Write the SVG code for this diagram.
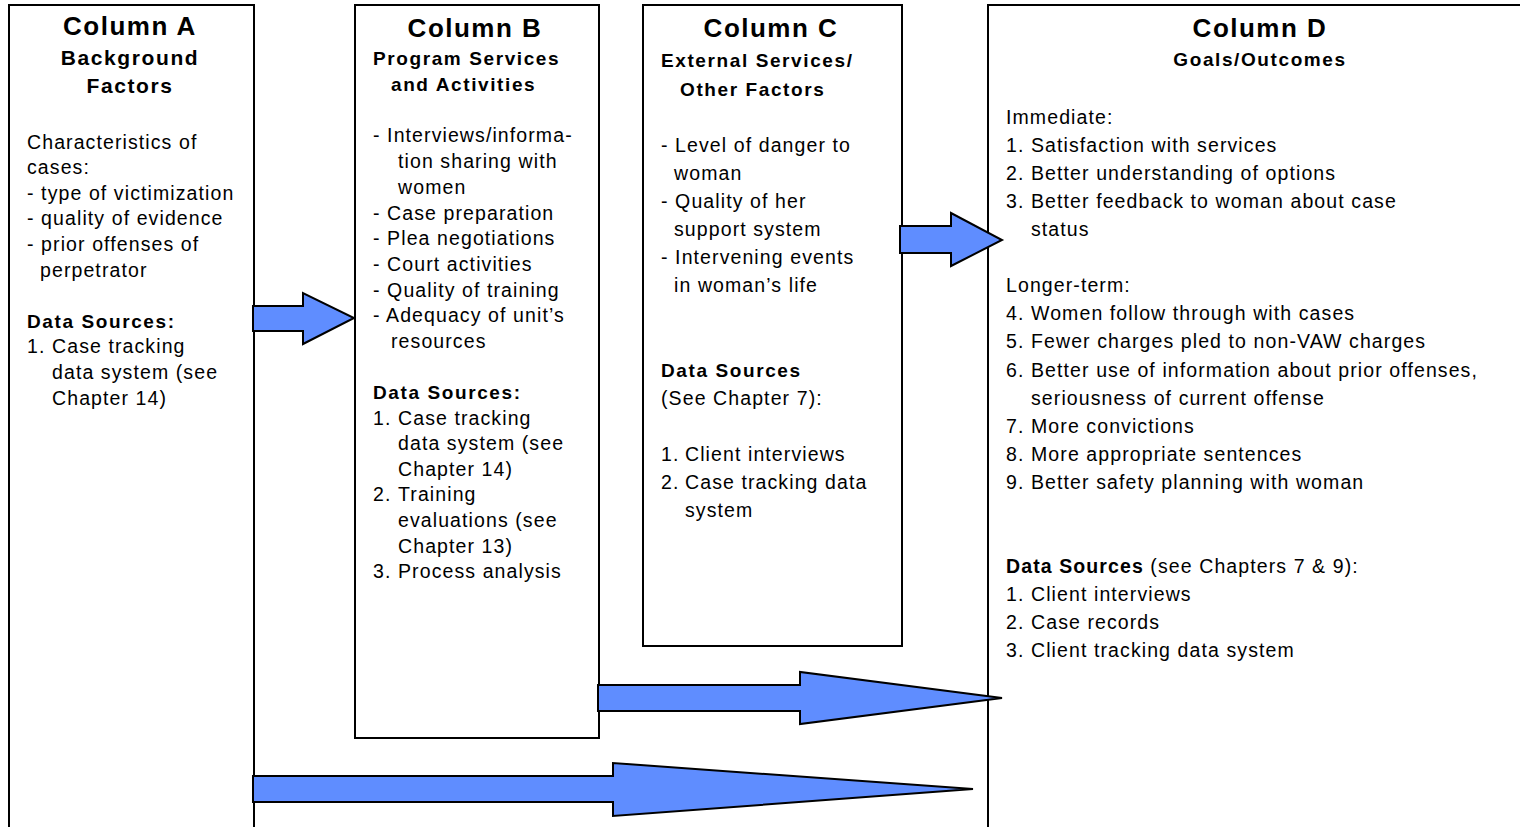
<svg xmlns="http://www.w3.org/2000/svg" width="1520" height="827" viewBox="0 0 1520 827">
<style>
text{font-family:"Liberation Sans",Arial,sans-serif;fill:#000}
.b{font-size:19.5px;letter-spacing:1.1px}
.h{font-size:26px;font-weight:bold;letter-spacing:1.5px;text-anchor:middle}
.s{font-size:19px;font-weight:bold;letter-spacing:1.6px}
.sa{font-size:21px;font-weight:bold;letter-spacing:1.6px;text-anchor:middle}
.bold{font-weight:bold}
.box{fill:#fff;stroke:#000;stroke-width:2}
.arr{fill:#5F8DFF;stroke:#000;stroke-width:2;stroke-linejoin:miter}
</style>
<rect width="1520" height="827" fill="#fff"/>
<g id="colA">
<rect class="box" x="9" y="5" width="245" height="830"/>
<text class="h" x="130" y="35">Column A</text>
<text class="sa" x="130" y="65">Background</text>
<text class="sa" x="130" y="93">Factors</text>
<text class="b" x="27" y="149">Characteristics of</text>
<text class="b" x="27" y="174">cases:</text>
<text class="b" x="27" y="200">- type of victimization</text>
<text class="b" x="27" y="225">- quality of evidence</text>
<text class="b" x="27" y="251">- prior offenses of</text>
<text class="b" x="40" y="277">perpetrator</text>
<text class="s" x="27" y="328">Data Sources:</text>
<text class="b" y="353"><tspan x="27">1.</tspan><tspan x="52">Case tracking</tspan></text>
<text class="b" x="52" y="379">data system (see</text>
<text class="b" x="52" y="405">Chapter 14)</text>
</g>
<g id="colB">
<rect class="box" x="355" y="5" width="244" height="733"/>
<text class="h" x="475" y="37">Column B</text>
<text class="s" x="373" y="65">Program Services</text>
<text class="s" x="391" y="91">and Activities</text>
<text class="b" x="373" y="142">- Interviews/informa-</text>
<text class="b" x="398" y="168">tion sharing with</text>
<text class="b" x="398" y="194">women</text>
<text class="b" x="373" y="220">- Case preparation</text>
<text class="b" x="373" y="245">- Plea negotiations</text>
<text class="b" x="373" y="271">- Court activities</text>
<text class="b" x="373" y="297">- Quality of training</text>
<text class="b" x="373" y="322">- Adequacy of unit’s</text>
<text class="b" x="391" y="348">resources</text>
<text class="s" x="373" y="399">Data Sources:</text>
<text class="b" y="425"><tspan x="373">1.</tspan><tspan x="398">Case tracking</tspan></text>
<text class="b" x="398" y="450">data system (see</text>
<text class="b" x="398" y="476">Chapter 14)</text>
<text class="b" y="501"><tspan x="373">2.</tspan><tspan x="398">Training</tspan></text>
<text class="b" x="398" y="527">evaluations (see</text>
<text class="b" x="398" y="553">Chapter 13)</text>
<text class="b" y="578"><tspan x="373">3.</tspan><tspan x="398">Process analysis</tspan></text>
</g>
<g id="colC">
<rect class="box" x="643" y="5" width="259" height="641"/>
<text class="h" x="771" y="37">Column C</text>
<text class="s" x="661" y="67">External Services/</text>
<text class="s" x="680" y="96">Other Factors</text>
<text class="b" x="661" y="152">- Level of danger to</text>
<text class="b" x="674" y="180">woman</text>
<text class="b" x="661" y="208">- Quality of her</text>
<text class="b" x="674" y="236">support system</text>
<text class="b" x="661" y="264">- Intervening events</text>
<text class="b" x="674" y="292">in woman’s life</text>
<text class="s" x="661" y="377">Data Sources</text>
<text class="b" x="661" y="405">(See Chapter 7):</text>
<text class="b" y="461"><tspan x="661">1.</tspan><tspan x="685">Client interviews</tspan></text>
<text class="b" y="489"><tspan x="661">2.</tspan><tspan x="685">Case tracking data</tspan></text>
<text class="b" x="685" y="517">system</text>
</g>
<g id="colD">
<rect class="box" x="988" y="5" width="560" height="830"/>
<text class="h" x="1260" y="37">Column D</text>
<text class="s" x="1260" y="66" text-anchor="middle">Goals/Outcomes</text>
<text class="b" x="1006" y="124">Immediate:</text>
<text class="b" y="152"><tspan x="1006">1.</tspan><tspan x="1031">Satisfaction with services</tspan></text>
<text class="b" y="180"><tspan x="1006">2.</tspan><tspan x="1031">Better understanding of options</tspan></text>
<text class="b" y="208"><tspan x="1006">3.</tspan><tspan x="1031">Better feedback to woman about case</tspan></text>
<text class="b" x="1031" y="236">status</text>
<text class="b" x="1006" y="292">Longer-term:</text>
<text class="b" y="320"><tspan x="1006">4.</tspan><tspan x="1031">Women follow through with cases</tspan></text>
<text class="b" y="348"><tspan x="1006">5.</tspan><tspan x="1031">Fewer charges pled to non-VAW charges</tspan></text>
<text class="b" y="377"><tspan x="1006">6.</tspan><tspan x="1031">Better use of information about prior offenses,</tspan></text>
<text class="b" x="1031" y="405">seriousness of current offense</text>
<text class="b" y="433"><tspan x="1006">7.</tspan><tspan x="1031">More convictions</tspan></text>
<text class="b" y="461"><tspan x="1006">8.</tspan><tspan x="1031">More appropriate sentences</tspan></text>
<text class="b" y="489"><tspan x="1006">9.</tspan><tspan x="1031">Better safety planning with woman</tspan></text>
<text class="b" x="1006" y="573"><tspan class="bold">Data Sources</tspan> (see Chapters 7 &amp; 9):</text>
<text class="b" y="601"><tspan x="1006">1.</tspan><tspan x="1031">Client interviews</tspan></text>
<text class="b" y="629"><tspan x="1006">2.</tspan><tspan x="1031">Case records</tspan></text>
<text class="b" y="657"><tspan x="1006">3.</tspan><tspan x="1031">Client tracking data system</tspan></text>
</g>
<g id="connectors">
<polygon class="arr" points="253,306 303,306 303,293 354,318 303,344 303,331 253,331"/>
<polygon class="arr" points="900,226 951,226 951,213 1002,240 951,266 951,253 900,253"/>
<polygon class="arr" points="598,685 800,685 800,672 1002,698 800,724 800,711 598,711"/>
<polygon class="arr" points="253,776 613,776 613,763 973,789 613,816 613,802 253,802"/>
</g>
</svg>
